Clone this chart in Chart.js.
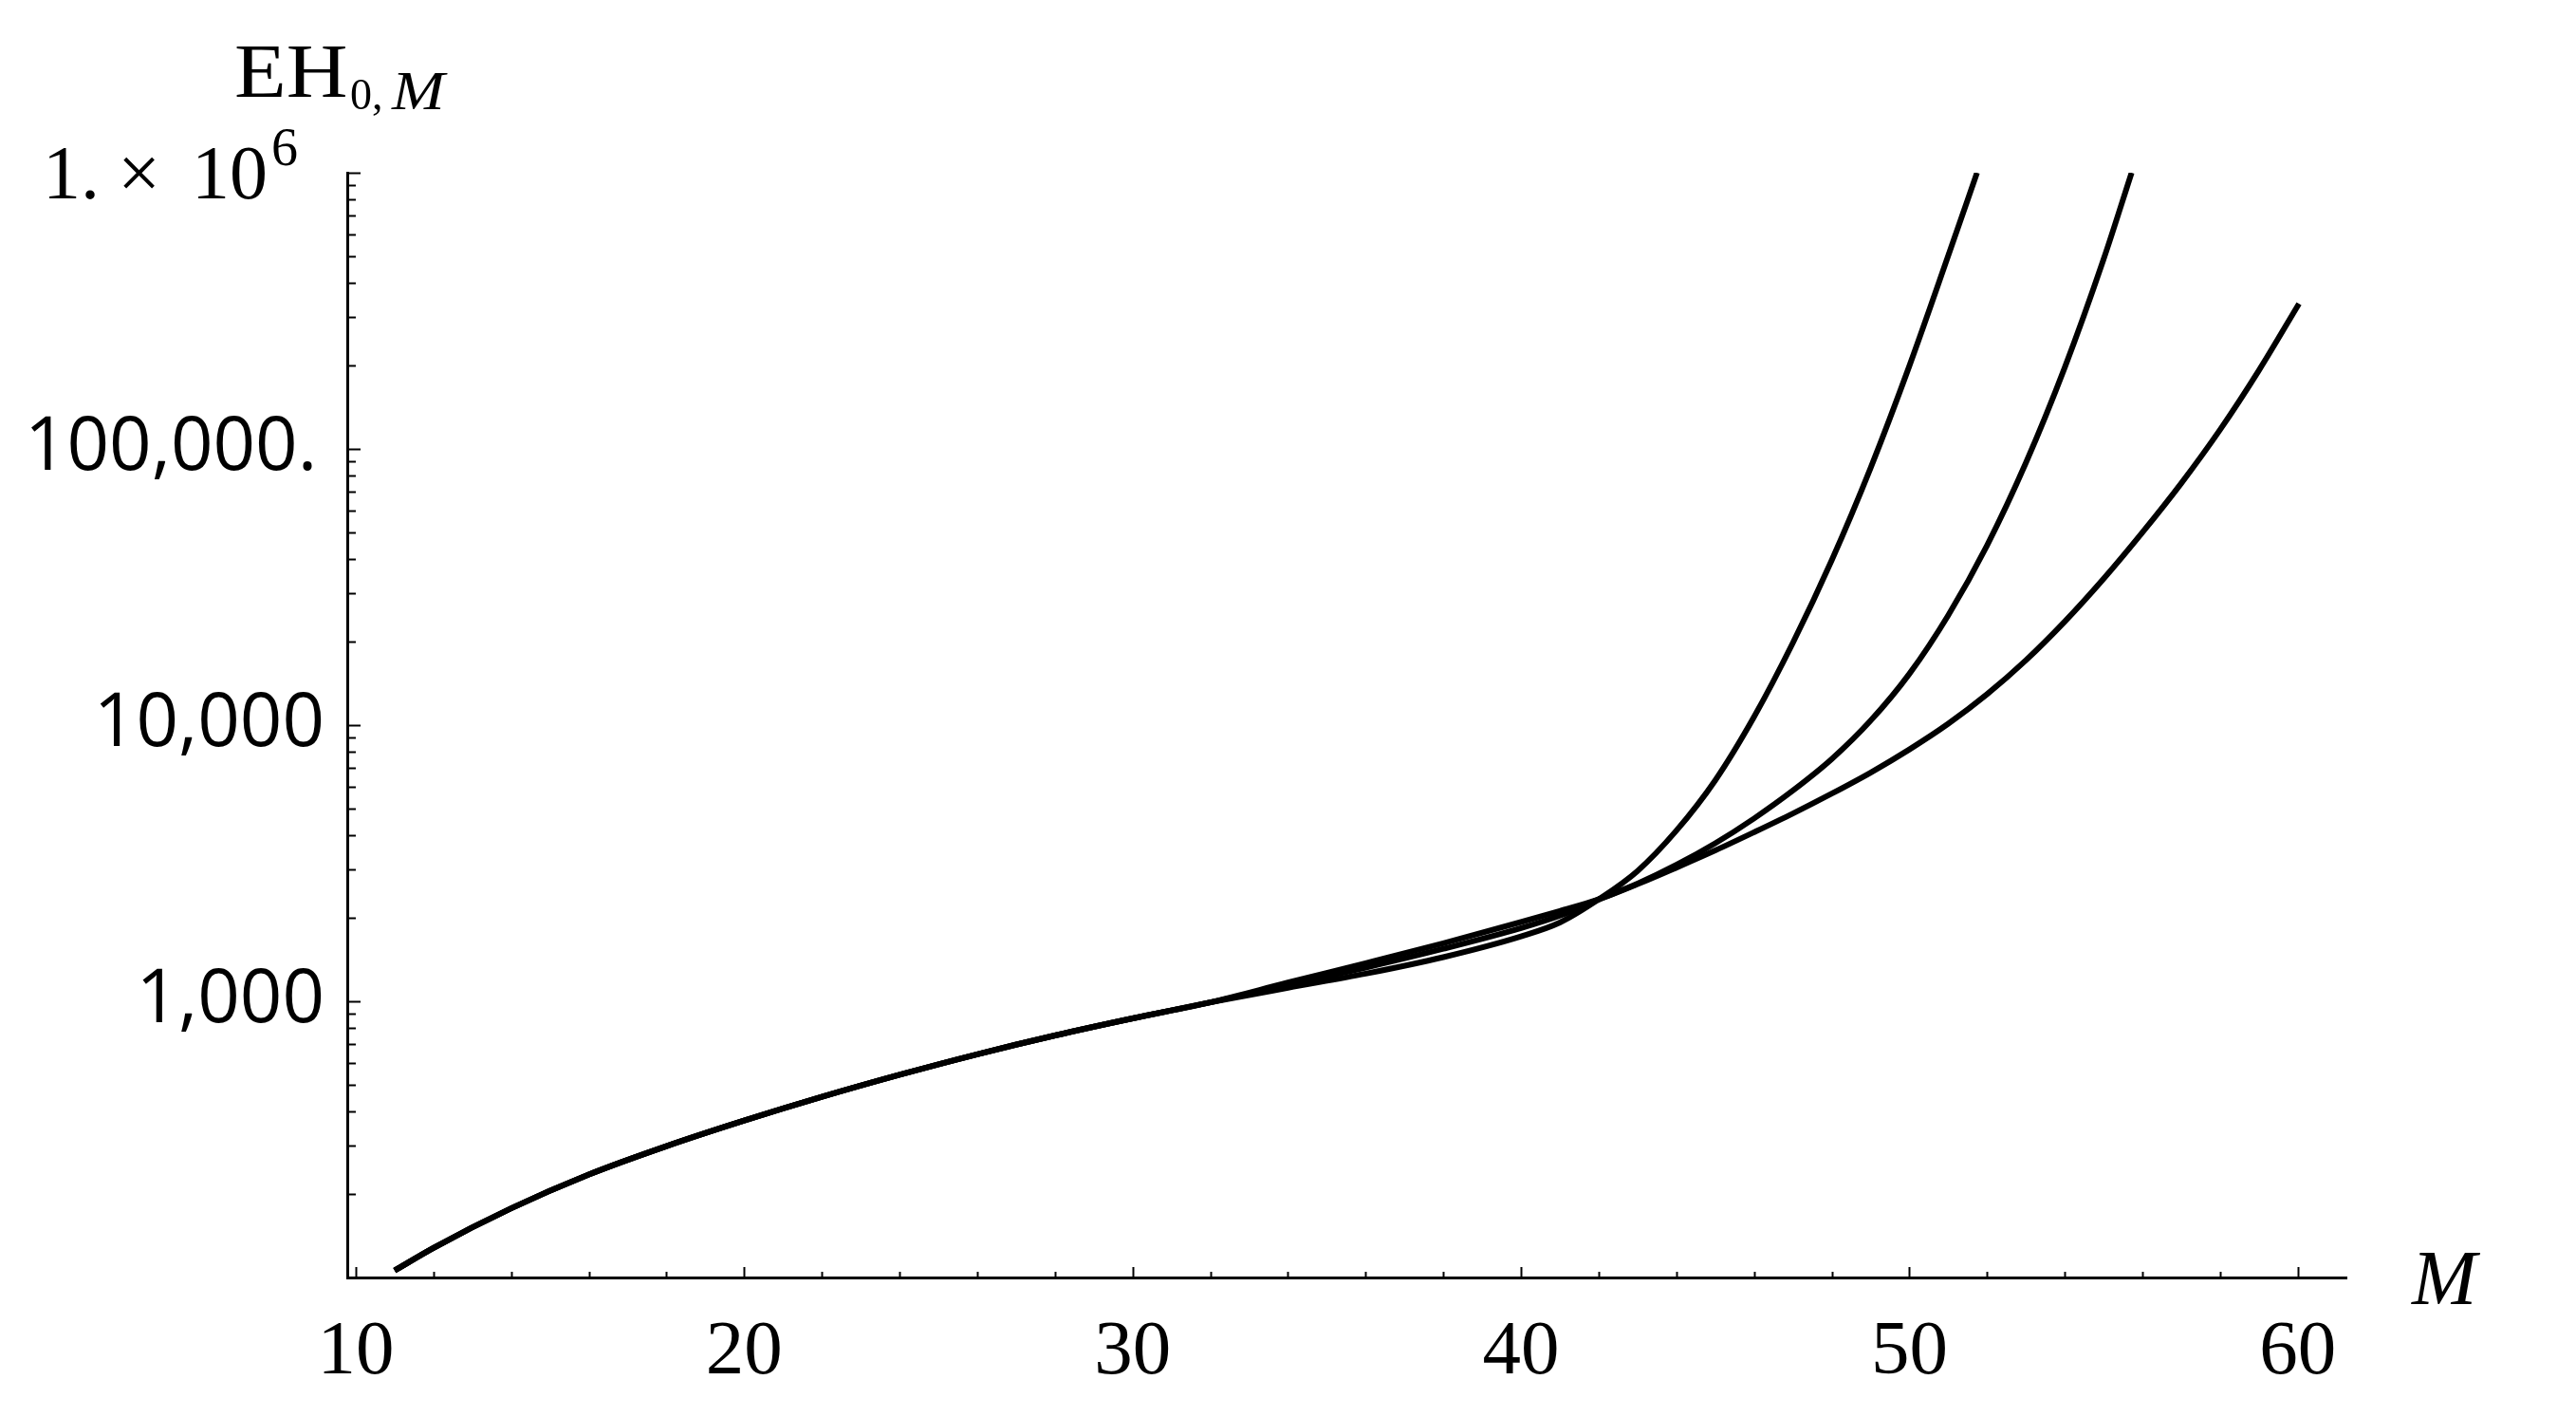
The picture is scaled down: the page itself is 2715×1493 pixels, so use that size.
<!DOCTYPE html>
<html>
<head>
<meta charset="utf-8">
<script src="https://cdn.jsdelivr.net/npm/chart.js@4.4.1/dist/chart.umd.min.js"></script>
<style>
  html, body { margin: 0; padding: 0; background: #fff; }
  #wrap { width: 2715px; height: 1493px; }
</style>
</head>
<body>
<div id="wrap"><canvas id="chart" width="2715" height="1493"></canvas></div>
<script>
// curve values (M, EH0,M)
const sharedM = [11, 12, 14, 16, 18, 20, 22, 24, 26, 28, 30, 32];
const shared = [106, 128, 178, 236, 299, 370, 451, 542, 643, 752, 867, 991];

const mA = sharedM.concat([34, 36, 38, 40, 41, 42, 43, 44, 45, 46, 47, 48, 49, 50, 51, 51.74]);
const ehA = shared.concat([1119, 1259, 1445, 1718, 1928, 2339, 2965, 4150, 6310, 10715, 19860, 39540, 85310, 200000, 501000, 1000000]);

const mB = sharedM.concat([34, 36, 38, 40, 41, 42, 43, 44, 45, 46, 47, 48, 49, 50, 51, 52, 53, 54, 55, 55.72]);
const ehB = shared.concat([1143, 1324, 1549, 1841, 2042, 2339, 2667, 3119, 3733, 4592, 5794, 7534, 10375, 15346, 25000, 44770, 89125, 197240, 486400, 1000000]);

const mC = sharedM.concat([34, 36, 38, 40, 41, 42, 43, 44, 45, 46, 47, 48, 49, 50, 51, 52, 53, 54, 55, 56, 57, 58, 59, 60.03]);
const ehC = shared.concat([1169, 1374, 1622, 1936, 2123, 2339, 2655, 3048, 3516, 4093, 4786, 5649, 6730, 8166, 10116, 12942, 17179, 23714, 33884, 49888, 75162, 117490, 192750, 335740]);

const xTicks = [10, 20, 30, 40, 50, 60];
const yTicks = [1000, 10000, 100000, 1000000];
const yLabels = ['1,000', '10,000', '100,000.\u200a', ''];

const toPoints = (xs, ys) => xs.map((x, i) => ({ x, y: ys[i] }));

const serif = '"Liberation Serif", "Times New Roman", serif';
const sans = '"Open Sans", "Noto Sans", sans-serif';

const lineStyle = {
  borderColor: '#000',
  borderWidth: 6,
  pointRadius: 0,
  fill: false,
  cubicInterpolationMode: 'monotone'
};

// tick marks pointing into the plot, plus the axis titles and the 10^6 label
const decor = {
  id: 'decor',
  afterDraw(chart) {
    const { ctx, scales: { x, y } } = chart;
    ctx.save();
    ctx.strokeStyle = '#000';
    ctx.lineWidth = 2;
    const x0 = x.left, y0 = y.bottom;
    for (let m = 10; m <= 60; m += 2) {
      const px = Math.round(x.getPixelForValue(m)) + 0.5;
      const len = m % 10 === 0 ? 11 : 6;
      ctx.beginPath(); ctx.moveTo(px, y0); ctx.lineTo(px, y0 - len); ctx.stroke();
    }
    for (let e = 2; e <= 5; e++) {
      for (let k = 1; k <= 9; k++) {
        const v = k * Math.pow(10, e);
        if (v <= y.min) continue;
        const py = Math.round(y.getPixelForValue(v)) + 0.5;
        const len = k === 1 ? 14 : 9;
        ctx.beginPath(); ctx.moveTo(x0, py); ctx.lineTo(x0 + len, py); ctx.stroke();
      }
    }
    const pTop = Math.round(y.getPixelForValue(1000000)) + 0.5;
    ctx.beginPath(); ctx.moveTo(x0, pTop); ctx.lineTo(x0 + 14, pTop); ctx.stroke();

    ctx.fillStyle = '#000';
    ctx.textBaseline = 'alphabetic';
    ctx.textAlign = 'left';
    // top tick label 1. x 10^6
    ctx.font = '80px ' + serif;
    ctx.fillText('1.', 45, pTop + 26);
    ctx.fillText('\u00d7', 124, pTop + 26);
    ctx.fillText('10', 202, pTop + 26);
    ctx.font = '56px ' + serif;
    ctx.fillText('6', 286, pTop - 9);

    // y title EH_{0,M}
    ctx.save();
    ctx.translate(247, 102);
    ctx.scale(1.12, 1);
    ctx.font = '80px ' + serif;
    ctx.fillText('EH', 0, 0);
    ctx.restore();
    ctx.font = '46px ' + serif;
    ctx.fillText('0,', 369, 115);
    ctx.save();
    ctx.translate(413, 115);
    ctx.scale(1.15, 1);
    ctx.font = 'italic 58px ' + serif;
    ctx.fillText('M', 0, 0);
    ctx.restore();

    // x title
    ctx.font = 'italic 82px ' + serif;
    ctx.fillText('M', 2542, 1374);
    ctx.restore();
  }
};

new Chart(document.getElementById('chart'), {
  type: 'line',
  data: {
    datasets: [
      Object.assign({ data: toPoints(mA, ehA) }, lineStyle),
      Object.assign({ data: toPoints(mB, ehB) }, lineStyle),
      Object.assign({ data: toPoints(mC, ehC) }, lineStyle)
    ]
  },
  options: {
    responsive: false,
    animation: false,
    layout: { padding: { top: 182, right: 242, left: 0, bottom: 0 } },
    plugins: { legend: { display: false }, tooltip: { enabled: false } },
    scales: {
      x: {
        type: 'linear',
        min: 9.78,
        max: 61.25,
        afterBuildTicks: s => { s.ticks = xTicks.map(v => ({ value: v })); },
        afterFit: s => { s.height = 147; },
        grid: { display: false, drawTicks: false },
        border: { display: true, color: '#000', width: 3 },
        ticks: {
          color: '#000',
          padding: 31,
          maxRotation: 0,
          font: { family: serif, size: 81 },
          callback: v => String(v)
        }
      },
      y: {
        type: 'logarithmic',
        min: 100,
        max: 1000000,
        afterBuildTicks: s => { s.ticks = yTicks.map(v => ({ value: v })); },
        afterFit: s => { s.width = 366; },
        grid: { display: false, drawTicks: false },
        border: { display: true, color: '#000', width: 3 },
        ticks: {
          color: '#000',
          padding: 24,
          font: { family: sans, size: 78 },
          callback: v => yLabels[yTicks.indexOf(v)] ?? ''
        }
      }
    }
  },
  plugins: [decor]
});
</script>
</body>
</html>
